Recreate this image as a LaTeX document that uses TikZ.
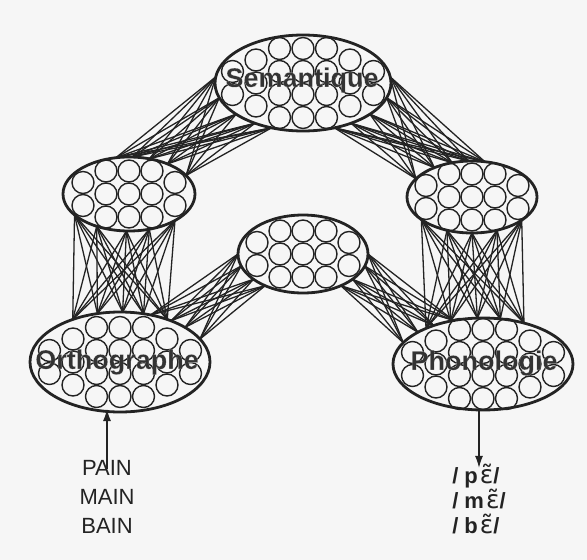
\documentclass[tikz,border=0pt]{standalone}
\usepackage{fontspec}
\setmainfont{Liberation Sans}
\newfontfamily\ipafont{DejaVu Sans}
\usetikzlibrary{shapes.geometric,arrows.meta}
\definecolor{bgcol}{RGB}{246,246,246}
\definecolor{ink}{RGB}{35,35,35}
\newcommand\bigpattern[2]{%
  \foreach \dx/\dy in {-23.5/-34.5,-23.5/-11.5,-23.5/11.5,-23.5/34.5,
                        0/-34.5,0/-11.5,0/11.5,0/34.5,
                        23.5/-34.5,23.5/-11.5,23.5/11.5,23.5/34.5,
                        -47/-23,-47/0,-47/23,47/-23,47/0,47/23,
                        -70.5/-11.5,-70.5/11.5,70.5/-11.5,70.5/11.5}
    {\draw[neuron] ({#1+\dx},{#2+\dy}) circle (11pt);}}
\newcommand\smallpattern[2]{%
  \foreach \dx/\dy in {-23/-23,-23/0,-23/23,0/-23,0/0,0/23,23/-23,23/0,23/23,
                        -46/-11.5,-46/11.5,46/-11.5,46/11.5}
    {\draw[neuron] ({#1+\dx},{#2+\dy}) circle (11pt);}}
\newcommand\halotext[1]{\special{pdf:literal direct 0.2 0.2 0.2 rg 1 1 1 RG 2 Tr 0.035 w}#1\special{pdf:literal direct 0 Tr}}
\begin{document}
\begin{tikzpicture}[x=1pt,y=-1pt,
  layer/.style={draw=ink, line width=2.8pt, ellipse, inner sep=0pt, outer sep=0pt},
  neuron/.style={draw=ink, line width=1.4pt},
  link/.style={draw=ink, line width=1.3pt},
  layerlabel/.style={font=\bfseries\fontsize{27}{27}\selectfont, text=ink, inner sep=0pt},
  arrowline/.style={draw=ink, line width=1.3pt, -{Latex[length=12pt,width=8pt]}}]
\fill[bgcol] (0,0) rectangle (587,560);
\useasboundingbox (0,0) rectangle (587,560);
% layers
\node[layer, minimum width=176pt, minimum height=96pt] (sem) at (303,83) {};
\node[layer, minimum width=132pt, minimum height=74pt] (lt) at (129,194) {};
\node[layer, minimum width=130pt, minimum height=72pt] (rt) at (472,197) {};
\node[layer, minimum width=130pt, minimum height=78pt] (mid) at (303,254) {};
\node[layer, minimum width=180pt, minimum height=100pt] (ortho) at (120,362) {};
\node[layer, minimum width=180pt, minimum height=92pt] (phono) at (483,364) {};
% connections
\foreach \a in {176,190,205,220,235}
  \foreach \b in {110,85,60,38,18}
    \draw[link] (sem.\a) -- (lt.\b);
\foreach \a in {4,-10,-25,-40,-55}
  \foreach \b in {70,95,120,142,162}
    \draw[link] (sem.\a) -- (rt.\b);
\foreach \a in {201.5,225.3,266.9,300.9,330}
  \foreach \b in {138.6,115.5,87.7,64.5,42.2}
    \draw[link] (lt.\a) -- (ortho.\b);
\foreach \a in {204.7,233,270,307,335.3}
  \foreach \b in {148.7,127.6,97.4,69.4,45.8}
    \draw[link] (rt.\a) -- (phono.\b);
\foreach \a in {57.5,39.8,28,16}
  \foreach \b in {180,191.6,207.8,220}
    \draw[link] (ortho.\a) -- (mid.\b);
\foreach \a in {0,-11.6,-27.8,-40}
  \foreach \b in {124.7,142.6,154,165.2}
    \draw[link] (mid.\a) -- (phono.\b);
% neurons
\bigpattern{303}{83}
\smallpattern{129}{194}
\smallpattern{472}{197}
\smallpattern{303}{254}
\bigpattern{120}{362}
\bigpattern{483}{364}
% labels
\node[layerlabel] (semlab) at (302,80) {\halotext{Semantique}};
\node[layerlabel] (orthlab) at (117,362) {\halotext{Orthographe}};
\node[layerlabel] (phonlab) at (484,363) {\halotext{Phonologie}};
% input / output
\node[font=\fontsize{22}{29}\selectfont, align=center, text=ink, inner sep=0pt] (words) at (107,497) {PAIN\\MAIN\\BAIN};
\node[font=\bfseries\fontsize{22}{25}\selectfont, align=left, text=ink, inner sep=0pt] (phon) at (479,499)
  {/\hspace{6pt}p\hspace{2pt}{\ipafont\mdseries\fontsize{25}{25}\selectfont ɛ̃}/\\/\hspace{6pt}m\hspace{2pt}{\ipafont\mdseries\fontsize{25}{25}\selectfont ɛ̃}/\\/\hspace{6pt}b\hspace{2pt}{\ipafont\mdseries\fontsize{25}{25}\selectfont ɛ̃}/};
\coordinate (wtop) at ([yshift=-9pt]words.north);
\draw[arrowline] (wtop) -- ([yshift=3pt]wtop |- ortho.south);
\coordinate (ptop) at ([yshift=-4pt]phon.north);
\draw[arrowline] (ptop |- phono.south) -- (ptop);
\end{tikzpicture}
\end{document}
